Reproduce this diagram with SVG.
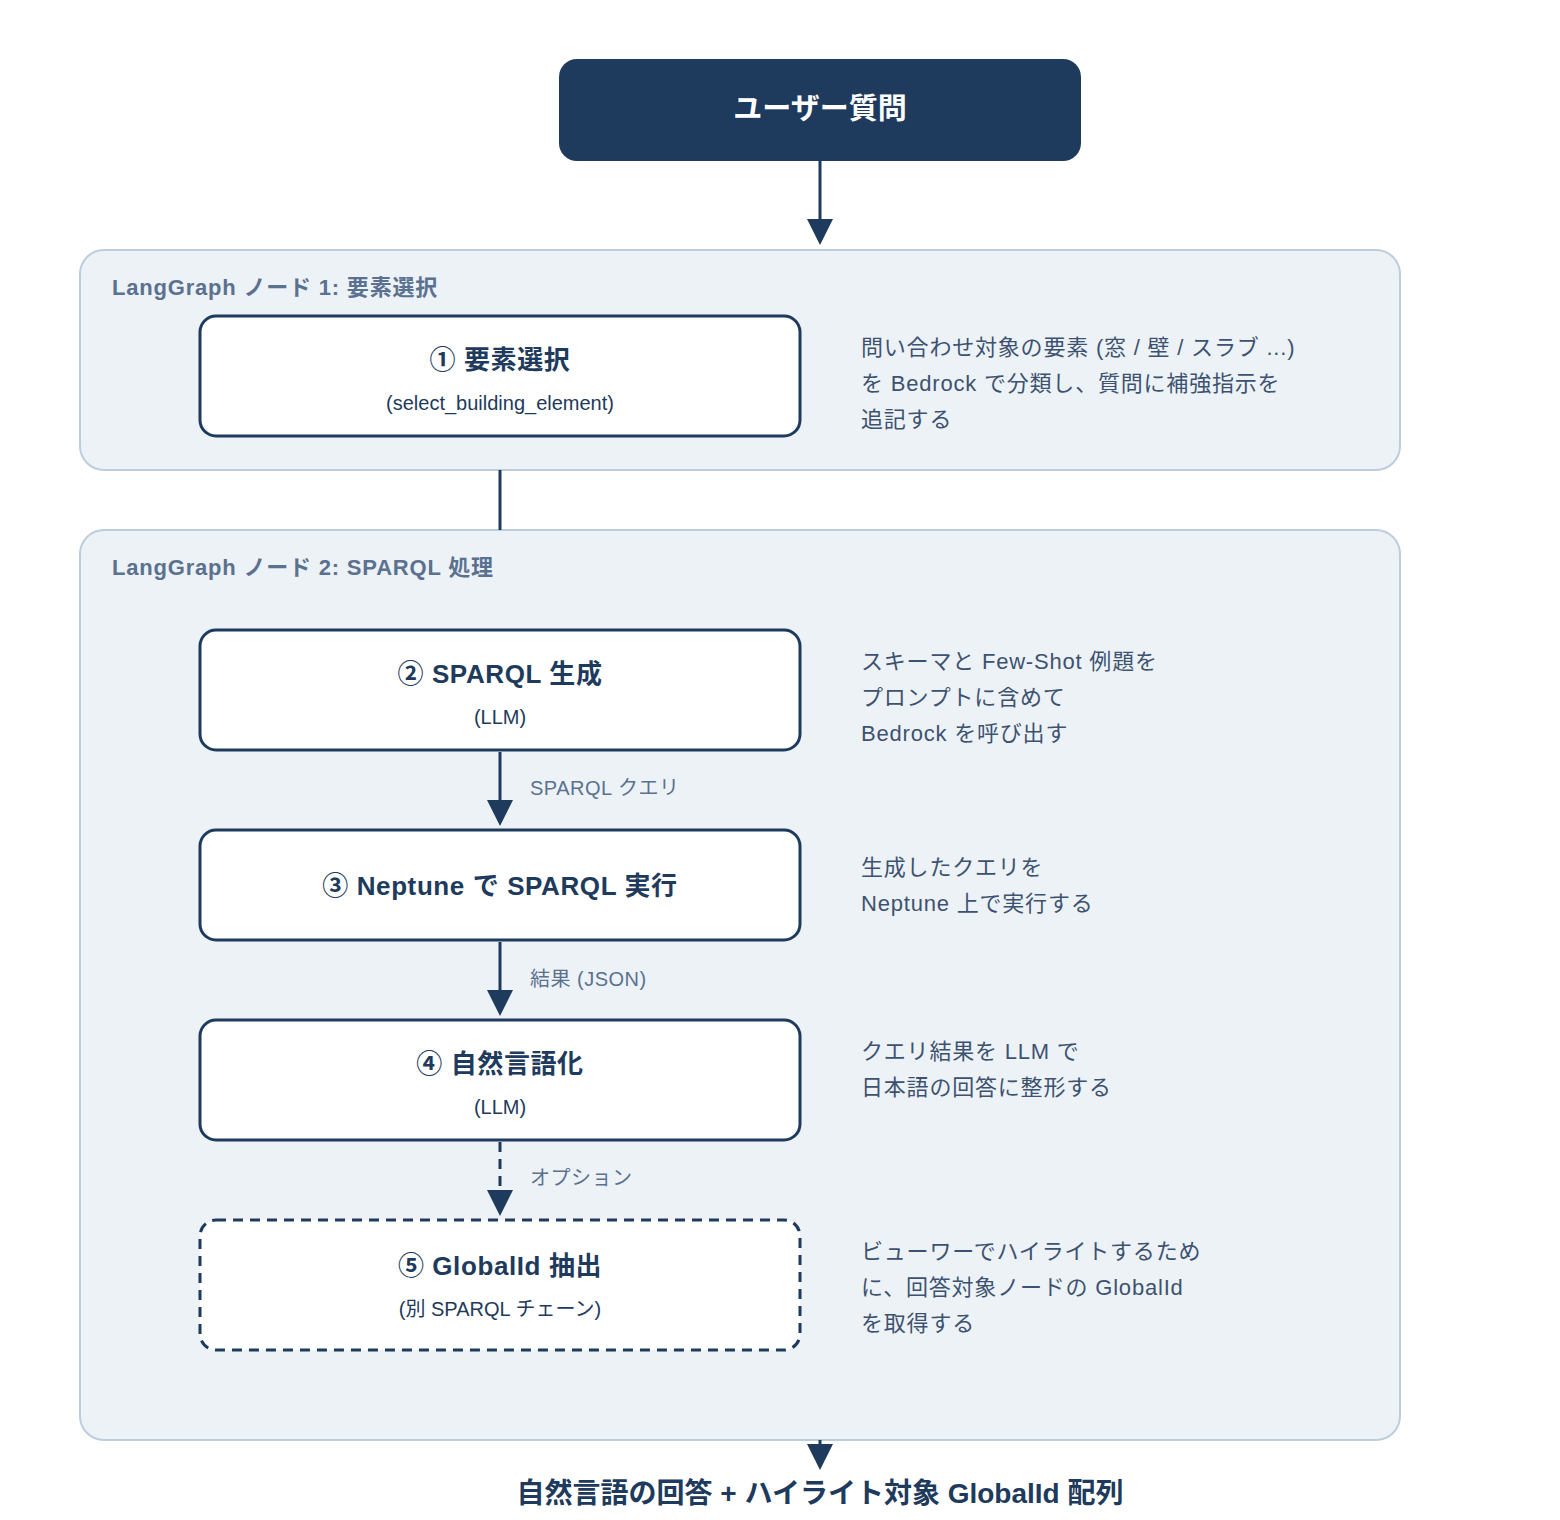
<svg xmlns="http://www.w3.org/2000/svg" width="1560" height="1520" viewBox="0 0 1560 1520">
<defs>
<style>
text{font-family:"Liberation Sans","Noto Sans CJK JP",sans-serif;}
.grp{fill:#edf2f7;stroke:#bccddd;stroke-width:2;}
.glabel{font-size:22px;font-weight:bold;fill:#5a7190;letter-spacing:0.8px;}
.node{fill:#ffffff;stroke:#1e3a5c;stroke-width:3;}
.dash{stroke-dasharray:10 7;}
.title{font-size:26px;font-weight:bold;fill:#1e3a5c;text-anchor:middle;letter-spacing:0.6px;}
.sub{font-size:20px;fill:#1e3a5c;text-anchor:middle;}
.desc{font-size:22px;fill:#3d5270;letter-spacing:0.8px;}
.elabel{font-size:20px;fill:#5a7190;letter-spacing:0.5px;}
.edge{stroke:#1e3a5c;stroke-width:3;fill:none;}
</style>
</defs>
<rect width="1560" height="1520" fill="#ffffff"/>

<g id="group1">
<rect class="grp" x="80" y="250" width="1320" height="220" rx="24"/>
<text class="glabel" x="112" y="295">LangGraph ノード 1: 要素選択</text>
</g>
<g id="group2">
<rect class="grp" x="80" y="530" width="1320" height="910" rx="24"/>
<text class="glabel" x="112" y="575">LangGraph ノード 2: SPARQL 処理</text>
</g>

<g id="connectors">
<path class="edge" d="M820,161 V220"/>
<path d="M807,219 L833,219 L820,245 Z" fill="#1e3a5c"/>
<path class="edge" d="M500,470 V530"/>
<path class="edge" d="M500,752 V802"/>
<path d="M487,800 L513,800 L500,826 Z" fill="#1e3a5c"/>
<text class="elabel" x="530" y="795">SPARQL クエリ</text>
<path class="edge" d="M500,942 V992"/>
<path d="M487,990 L513,990 L500,1016 Z" fill="#1e3a5c"/>
<text class="elabel" x="530" y="986">結果 (JSON)</text>
<path class="edge dash" d="M500,1142 V1192"/>
<path d="M487,1190 L513,1190 L500,1216 Z" fill="#1e3a5c"/>
<text class="elabel" x="530" y="1185">オプション</text>
<path class="edge" d="M820,1440 V1446"/>
<path d="M807,1444 L833,1444 L820,1470 Z" fill="#1e3a5c"/>
</g>

<g id="user-question">
<rect x="559" y="59" width="522" height="102" rx="18" fill="#1e3a5c"/>
<text x="820" y="119" text-anchor="middle" font-size="29" font-weight="bold" fill="#ffffff">ユーザー質問</text>
</g>

<g id="node1">
<rect class="node" x="200" y="316" width="600" height="120" rx="16"/>
<text class="title" x="500" y="369">① 要素選択</text>
<text class="sub" x="500" y="410">(select_building_element)</text>
</g>
<g id="desc1">
<text class="desc" x="861" y="355">問い合わせ対象の要素 (窓 / 壁 / スラブ ...)</text>
<text class="desc" x="861" y="391">を Bedrock で分類し、質問に補強指示を</text>
<text class="desc" x="861" y="427">追記する</text>
</g>

<g id="node2">
<rect class="node" x="200" y="630" width="600" height="120" rx="16"/>
<text class="title" x="500" y="683">② SPARQL 生成</text>
<text class="sub" x="500" y="724">(LLM)</text>
</g>
<g id="desc2">
<text class="desc" x="861" y="669">スキーマと Few-Shot 例題を</text>
<text class="desc" x="861" y="705">プロンプトに含めて</text>
<text class="desc" x="861" y="741">Bedrock を呼び出す</text>
</g>

<g id="node3">
<rect class="node" x="200" y="830" width="600" height="110" rx="16"/>
<text class="title" x="500" y="895">③ Neptune で SPARQL 実行</text>
</g>
<g id="desc3">
<text class="desc" x="861" y="875">生成したクエリを</text>
<text class="desc" x="861" y="911">Neptune 上で実行する</text>
</g>

<g id="node4">
<rect class="node" x="200" y="1020" width="600" height="120" rx="16"/>
<text class="title" x="500" y="1073">④ 自然言語化</text>
<text class="sub" x="500" y="1114">(LLM)</text>
</g>
<g id="desc4">
<text class="desc" x="861" y="1059">クエリ結果を LLM で</text>
<text class="desc" x="861" y="1095">日本語の回答に整形する</text>
</g>

<g id="node5">
<rect class="node dash" x="200" y="1220" width="600" height="130" rx="16"/>
<text class="title" x="500" y="1275">⑤ GlobalId 抽出</text>
<text class="sub" x="500" y="1316">(別 SPARQL チェーン)</text>
</g>
<g id="desc5">
<text class="desc" x="861" y="1259">ビューワーでハイライトするため</text>
<text class="desc" x="861" y="1295">に、回答対象ノードの GlobalId</text>
<text class="desc" x="861" y="1331">を取得する</text>
</g>

<g id="output">
<text x="820" y="1503" text-anchor="middle" font-size="28" font-weight="bold" fill="#1e3a5c">自然言語の回答 + ハイライト対象 GlobalId 配列</text>
</g>
</svg>
